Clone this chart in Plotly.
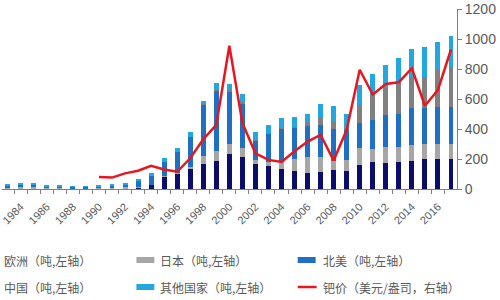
import plotly.graph_objects as go

years = list(range(1983, 2018))

europe = [5, 6, 6, 4, 4, 3, 3, 4, 5, 6, 11, 27, 82, 102, 133, 167, 188, 235, 212, 168,
          155, 133, 118, 110, 112, 125, 118, 162, 180, 172, 182, 190, 198, 198, 200]
japan = [5, 6, 6, 4, 4, 3, 3, 4, 4, 6, 4, 3, 3, 6, 17, 51, 67, 63, 60, 27,
         28, 57, 85, 105, 103, 65, 77, 111, 86, 110, 100, 103, 100, 100, 100]
north_america = [12, 16, 16, 10, 10, 8, 8, 10, 13, 20, 40, 60, 95, 142, 200, 342, 400, 347, 300, 125,
                 185, 210, 205, 203, 215, 210, 200, 167, 194, 212, 216, 245, 240, 250, 245]
china = [0, 0, 0, 0, 0, 0, 0, 0, 0, 0, 0, 0, 0, 0, 0, 5, 10, 15, 8, 10,
         4, 5, 7, 32, 45, 45, 15, 122, 162, 178, 218, 210, 210, 246, 270]
others = [8, 10, 9, 7, 7, 6, 6, 7, 10, 11, 15, 15, 25, 22, 28, 25, 43, 43, 52, 48,
          56, 67, 67, 52, 90, 110, 90, 133, 143, 155, 159, 184, 202, 188, 205]

price_years = list(range(1990, 2018))
price = [80, 76, 104, 122, 155, 130, 115, 205, 332, 427, 955, 440, 238, 194, 180, 252,
         316, 360, 190, 395, 795, 630, 700, 712, 805, 555, 660, 930]

tick_years = list(range(1984, 2017, 2))
tick_labels = [str(y) for y in tick_years]
right_ticks = list(range(0, 1201, 200))

names = ["欧洲（吨,左轴）", "日本（吨,左轴）", "北美（吨,左轴）",
         "中国（吨,左轴）", "其他国家（吨,左轴）", "钯价（美元/盎司，右轴）"]
colors = ["#0c0c6a", "#a6a6a6", "#1f6fc2", "#808080", "#22a7e0", "#e8161e"]

fig = go.Figure()
for vals, nm, col in zip([europe, japan, north_america, china, others], names[:5], colors[:5]):
    fig.add_trace(go.Bar(x=years, y=vals, name=nm, marker=dict(color=col, line=dict(width=0)),
                         width=0.38, showlegend=False, yaxis="y"))
fig.add_trace(go.Scatter(x=price_years, y=price, name=names[5], mode="lines",
                         line=dict(color=colors[5], width=2.5), yaxis="y2", showlegend=False))

tickfont = dict(family="Liberation Sans, Arial, sans-serif", size=11, color="#595959")
fig.update_layout(
    width=500, height=300,
    margin=dict(l=0, r=43, t=9, b=111),
    paper_bgcolor="white", plot_bgcolor="white",
    barmode="stack", bargap=0,
    xaxis=dict(range=[1982.565, 2017.46], tickvals=tick_years, ticktext=tick_labels,
               tickangle=-45, ticks="", showgrid=False, zeroline=False,
               showline=True, linecolor="#808080", linewidth=1,
               tickfont=tickfont, ticklabelstandoff=6, ticklabeloverflow="allow",
               minor=dict(ticks="outside", tick0=1982.5, dtick=1, ticklen=4,
                          tickcolor="#808080", showgrid=False)),
    yaxis=dict(range=[0, 1200], visible=False, showgrid=False),
    yaxis2=dict(range=[0, 1200], overlaying="y", side="right", tickvals=right_ticks,
                ticks="outside", ticklen=4, tickcolor="#808080", showline=True,
                linecolor="#808080", linewidth=1, showgrid=False, zeroline=False,
                tickfont=dict(family="Liberation Sans, Arial, sans-serif", size=14, color="#595959")),
)

# custom legend (two rows, three columns; first column's swatch lies left of the image)
W, H_TOP, H = 457.0, 9.0, 180.0
def px(x):
    return x / W
def py(y):
    return (H_TOP + H - y) / H

col_sw = [-22, 135, 297]
col_tx = [0, 157, 320]
row_y = [260, 287]
order = [(0, 0, 0), (1, 0, 1), (2, 0, 2), (3, 1, 0), (4, 1, 1), (5, 1, 2)]
for idx, r, c in order:
    x0 = col_sw[c]
    yc = row_y[r]
    if idx < 5:
        fig.add_shape(type="rect", xref="paper", yref="paper",
                      x0=px(x0), x1=px(x0 + 18), y0=py(yc + 3), y1=py(yc - 3),
                      fillcolor=colors[idx], line=dict(width=0))
    else:
        fig.add_shape(type="line", xref="paper", yref="paper",
                      x0=px(x0), x1=px(x0 + 19), y0=py(yc), y1=py(yc),
                      line=dict(color=colors[idx], width=2.5))
    fig.add_annotation(text=names[idx], xref="paper", yref="paper",
                       x=px(col_tx[c]), y=py(yc), xanchor="left", yanchor="middle",
                       showarrow=False,
                       font=dict(family="Noto Sans CJK SC", size=12, color="#595959"))

fig.write_html("out.html")
